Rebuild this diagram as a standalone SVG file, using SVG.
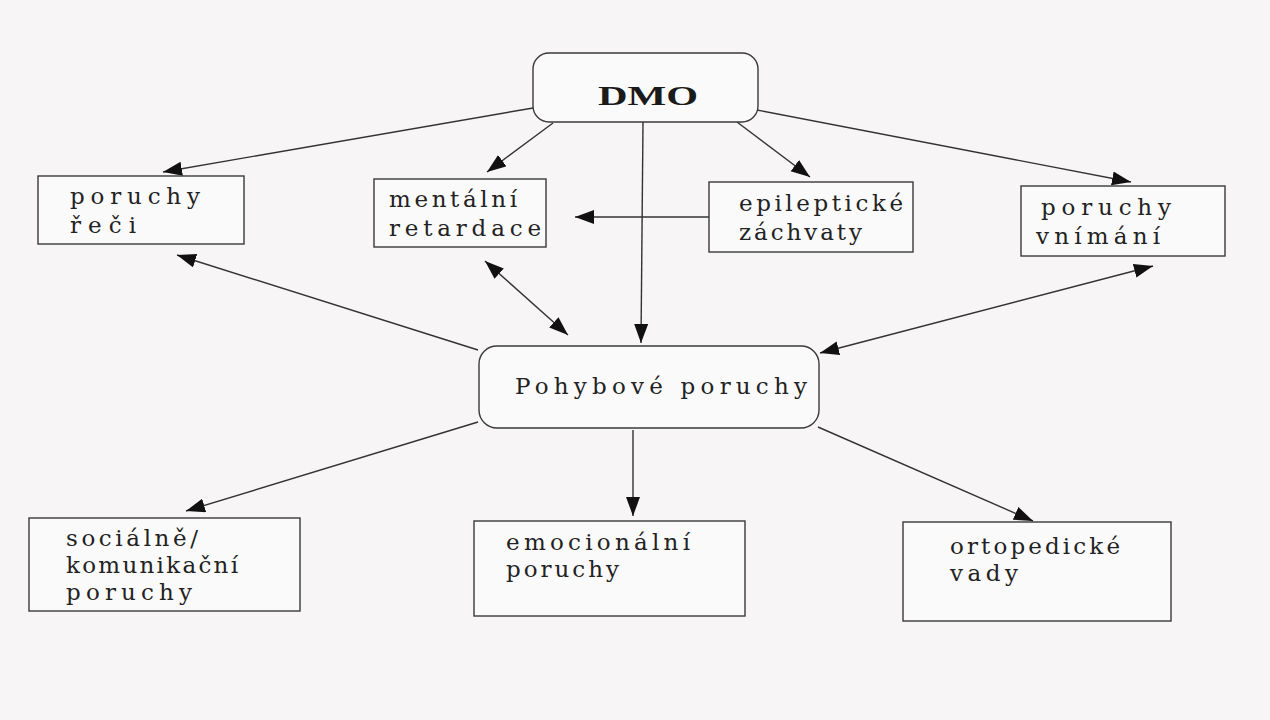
<svg xmlns="http://www.w3.org/2000/svg" width="1270" height="720" viewBox="0 0 1270 720">
<style>
.bg{fill:#f7f5f5}
.box{fill:#fafafa;stroke:#3a3a3a;stroke-width:1.4}
.t{font-family:"DejaVu Serif","Liberation Serif",serif;font-size:23px;fill:#222}
.tb{font-family:"Liberation Serif","DejaVu Serif",serif;font-size:28px;font-weight:bold;fill:#1a1a1a}
.c line{stroke:#333;stroke-width:1.4;fill:none}
</style>
<defs>
<marker id="ah" markerUnits="userSpaceOnUse" markerWidth="22" markerHeight="16" refX="19" refY="7" orient="auto-start-reverse">
<path d="M0,0 L19,7 L0,14 z" fill="#111"/>
</marker>
</defs>
<rect class="bg" x="0" y="0" width="1270" height="720"/>

<g class="c" id="connectors">
<line x1="533" y1="108" x2="163" y2="172" marker-end="url(#ah)"/>
<line x1="553" y1="123" x2="487" y2="172" marker-end="url(#ah)"/>
<line x1="643" y1="122" x2="641" y2="343" marker-end="url(#ah)"/>
<line x1="737" y1="122" x2="810" y2="177" marker-end="url(#ah)"/>
<line x1="757" y1="110" x2="1131" y2="182" marker-end="url(#ah)"/>
<line x1="709" y1="217" x2="575" y2="217" marker-end="url(#ah)"/>
<line x1="478" y1="350" x2="177" y2="255" marker-end="url(#ah)"/>
<line x1="485" y1="261" x2="568" y2="335" marker-start="url(#ah)" marker-end="url(#ah)"/>
<line x1="820" y1="353" x2="1153" y2="266" marker-start="url(#ah)" marker-end="url(#ah)"/>
<line x1="478" y1="422" x2="186" y2="511" marker-end="url(#ah)"/>
<line x1="633" y1="430" x2="633" y2="516" marker-end="url(#ah)"/>
<line x1="818" y1="427" x2="1033" y2="521" marker-end="url(#ah)"/>
</g>

<g id="dmo">
<rect class="box" x="533" y="53" width="225" height="69" rx="16"/>
<text class="tb" x="598" y="105" textLength="100" lengthAdjust="spacingAndGlyphs">DMO</text>
</g>

<g id="poruchy-reci">
<rect class="box" x="38" y="176" width="206" height="68"/>
<text class="t" x="70" y="204" textLength="130">poruchy</text>
<text class="t" x="70" y="233" textLength="66">řeči</text>
</g>

<g id="mentalni-retardace">
<rect class="box" x="374" y="179" width="172" height="68"/>
<text class="t" x="389" y="207" textLength="128">mentální</text>
<text class="t" x="389" y="236" textLength="152">retardace</text>
</g>

<g id="epilepticke-zachvaty">
<rect class="box" x="709" y="182" width="204" height="70"/>
<text class="t" x="739" y="211" textLength="164">epileptické</text>
<text class="t" x="739" y="240" textLength="123">záchvaty</text>
</g>

<g id="poruchy-vnimani">
<rect class="box" x="1021" y="186" width="204" height="70"/>
<text class="t" x="1041" y="215" textLength="130">poruchy</text>
<text class="t" x="1036" y="244" textLength="124">vnímání</text>
</g>

<g id="pohybove-poruchy">
<rect class="box" x="479" y="346" width="340" height="82" rx="18"/>
<text class="t" x="515" y="394" font-size="26" textLength="292">Pohybové poruchy</text>
</g>

<g id="socialne-komunikacni">
<rect class="box" x="29" y="518" width="271" height="93"/>
<text class="t" x="66" y="546" textLength="132">sociálně/</text>
<text class="t" x="66" y="573" textLength="172">komunikační</text>
<text class="t" x="66" y="600" textLength="126">poruchy</text>
</g>

<g id="emocionalni-poruchy">
<rect class="box" x="474" y="521" width="271" height="95"/>
<text class="t" x="506" y="550" textLength="184">emocionální</text>
<text class="t" x="506" y="577" textLength="113">poruchy</text>
</g>

<g id="ortopedicke-vady">
<rect class="box" x="903" y="522" width="268" height="99"/>
<text class="t" x="950" y="554" textLength="170">ortopedické</text>
<text class="t" x="950" y="581" textLength="68">vady</text>
</g>
</svg>
